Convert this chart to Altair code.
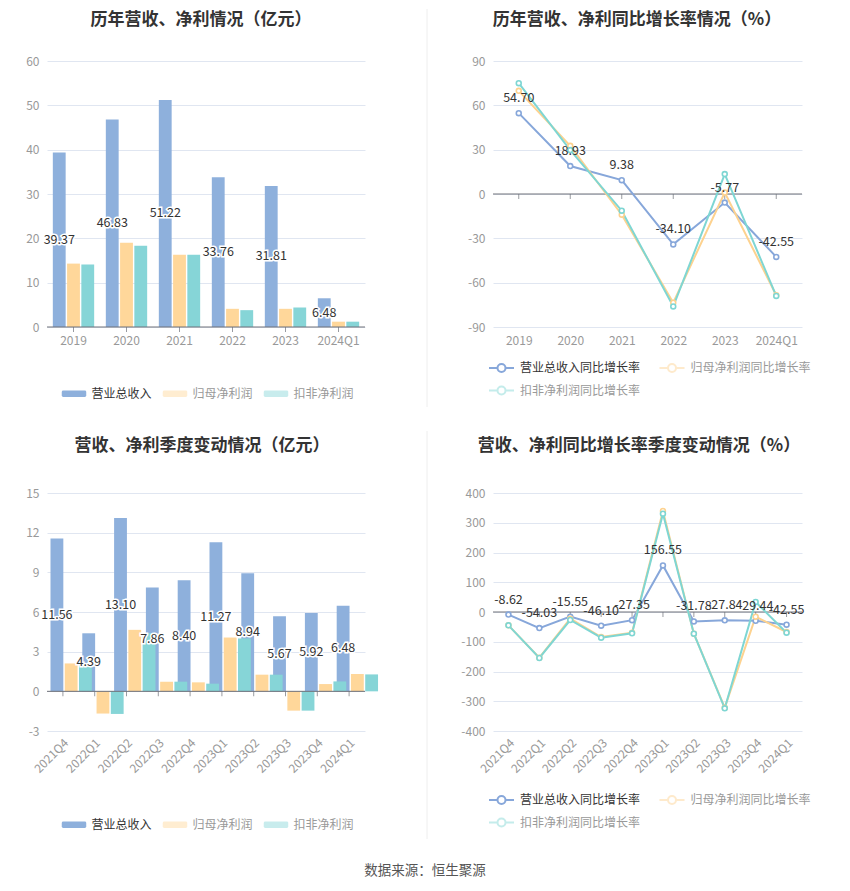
import altair as alt
import pandas as pd

FONT = "Noto Sans CJK SC"

# ---------------- data ----------------
years = ["2019", "2020", "2021", "2022", "2023", "2024Q1"]
rev = [39.37, 46.83, 51.22, 33.76, 31.81, 6.48]
net_profit = [14.3, 19.0, 16.3, 4.1, 4.1, 1.2]
ded_profit = [14.1, 18.3, 16.3, 3.8, 4.4, 1.2]

rev_g = [54.70, 18.93, 9.38, -34.10, -5.77, -42.55]
net_g = [69.8, 32.6, -14.0, -73.6, 1.0, -68.5]
ded_g = [75.0, 29.7, -11.3, -76.1, 13.5, -69.0]

quarters = ["2021Q4", "2022Q1", "2022Q2", "2022Q3", "2022Q4",
            "2023Q1", "2023Q2", "2023Q3", "2023Q4", "2024Q1"]
q_rev = [11.56, 4.39, 13.10, 7.86, 8.40, 11.27, 8.94, 5.67, 5.92, 6.48]
q_net = [2.11, -1.68, 4.65, 0.73, 0.68, 4.07, 1.26, -1.46, 0.55, 1.31]
q_ded = [2.06, -1.71, 4.42, 0.73, 0.58, 4.00, 1.26, -1.46, 0.75, 1.28]

q_rev_g = [-8.62, -54.03, -15.55, -46.10, -27.35, 156.55, -31.78, -27.84, -29.44, -42.55]
q_net_g = [-44.8, -153.5, -22.4, -84.0, -69.5, 339.5, -72.8, -321.6, -15.7, -67.2]
q_ded_g = [-44.8, -154.6, -26.9, -86.3, -71.7, 330.5, -72.8, -323.8, 33.6, -69.5]

bar_series = ["营业总收入", "归母净利润", "扣非净利润"]
line_series = ["营业总收入同比增长率", "归母净利润同比增长率", "扣非净利润同比增长率"]
bar_colors = ["#8eb0dc", "#ffd79a", "#86d5d7"]
line_colors = ["#87a7da", "#fdd28f", "#7ed6d3"]

titles = ["历年营收、净利情况（亿元）", "历年营收、净利同比增长率情况（%）",
          "营收、净利季度变动情况（亿元）", "营收、净利同比增长率季度变动情况（%）"]
source_text = "数据来源：恒生聚源"

RECT_PATH = ("M-0.88,-0.27L0.88,-0.27Q1,-0.27,1,-0.15L1,0.15Q1,0.27,0.88,0.27"
             "L-0.88,0.27Q-1,0.27,-1,0.15L-1,-0.15Q-1,-0.27,-0.88,-0.27Z")
LINE_PATH = ("M-1.25,0L-0.4,0M0.4,0L1.25,0"
             "M-0.4,0A0.4,0.4,0,1,1,0.4,0A0.4,0.4,0,1,1,-0.4,0")

AXIS_COLOR = "#6e7079"
GRID_COLOR = "#e0e6f1"
LABEL_COLOR = "#999999"


def long_df(cats, arrays, names):
    rows = []
    for name, arr in zip(names, arrays):
        for c, v in zip(cats, arr):
            rows.append({"cat": c, "series": name, "value": v, "lbl": f"{v:.2f}"})
    return pd.DataFrame(rows)


def y_axis(vals):
    return alt.Axis(values=vals, tickCount=len(vals), domain=False, ticks=False, grid=True,
                    gridColor=GRID_COLOR, gridWidth=1, labelColor=LABEL_COLOR,
                    labelFontSize=12, labelPadding=8, title=None, labelFont=FONT,
                    labelOverlap=False, labelExpr="datum.value + ''")


def x_axis(rotated):
    if rotated:
        return alt.Axis(domain=False, ticks=False, grid=False, labelAngle=-45,
                        labelColor=LABEL_COLOR, labelFontSize=12, labelPadding=6,
                        title=None, labelFont=FONT, labelOverlap=False)
    return alt.Axis(domain=False, ticks=False, grid=False, labelAngle=0,
                    labelColor=LABEL_COLOR, labelFontSize=12, labelPadding=8,
                    title=None, labelFont=FONT, labelOverlap=False)


def title_text(text, cx, cy):
    return alt.Chart(pd.DataFrame({"t": [text]})).mark_text(
        font=FONT, fontSize=17, fontWeight="bold", color="#333333",
        baseline="middle", align="center").encode(
        text="t:N", x=alt.value(cx), y=alt.value(cy))


def bar_panel(cats, arrays, width, height, ydom, yvals, legend_y, rotated, extra):
    df = long_df(cats, arrays, bar_series)
    xscale = alt.Scale(domain=cats, paddingInner=0.22, paddingOuter=0.11)
    yscale = alt.Scale(domain=ydom, nice=False)
    legend = alt.Legend(
        orient="none", legendX=14.5, legendY=legend_y, direction="horizontal",
        columns=3, title=None, symbolType=RECT_PATH, symbolSize=600,
        symbolStrokeWidth=0, labelOffset=5, columnPadding=10,
        labelFontSize=12, labelFont=FONT,
        labelColor=alt.ExprRef(f"datum.value === '{bar_series[0]}' ? '#333333' : '#999999'"),
        symbolOpacity=alt.ExprRef(f"datum.value === '{bar_series[0]}' ? 1 : 0.45"),
    )
    bars = alt.Chart(df).mark_bar().encode(
        x=alt.X("cat:N", scale=xscale, sort=cats, axis=x_axis(rotated)),
        xOffset=alt.XOffset("series:N", scale=alt.Scale(domain=bar_series, paddingInner=0.1)),
        y=alt.Y("value:Q", scale=yscale, axis=y_axis(yvals)),
        y2=alt.datum(0),
        color=alt.Color("series:N", scale=alt.Scale(domain=bar_series, range=bar_colors),
                        legend=legend),
    )
    zero = alt.Chart(pd.DataFrame({"z": [0]})).mark_rule(
        color=AXIS_COLOR, strokeWidth=1).encode(
        y=alt.Y("z:Q"), x=alt.value(0), x2=alt.value(width))
    ticks = alt.Chart(pd.DataFrame({"cat": cats, "z": [0] * len(cats)})).mark_tick(
        orient="vertical", size=5, thickness=1, yOffset=2.5, color=AXIS_COLOR).encode(
        x=alt.X("cat:N"), y=alt.Y("z:Q"))
    rdf = df[df["series"] == bar_series[0]].copy()
    rdf["mid"] = rdf["value"] / 2
    halo = alt.Chart(rdf).mark_text(
        font=FONT, fontSize=12.5, stroke="white", strokeWidth=3, fill="white",
        baseline="middle").encode(
        x=alt.X("cat:N"), xOffset=alt.XOffset("series:N"), y=alt.Y("mid:Q"),
        text="lbl:N")
    labels = alt.Chart(rdf).mark_text(
        font=FONT, fontSize=12.5, color="#333333", baseline="middle").encode(
        x=alt.X("cat:N"), xOffset=alt.XOffset("series:N"), y=alt.Y("mid:Q"),
        text="lbl:N")
    layers = [bars, zero, ticks, halo, labels] + extra
    return alt.layer(*layers).properties(width=width, height=height)


def line_panel(cats, arrays, width, height, ydom, yvals, legend_y, rotated, extra):
    df = long_df(cats, arrays, line_series)
    xscale = alt.Scale(type="point", domain=cats, padding=0.5)
    yscale = alt.Scale(domain=ydom, nice=False)
    legend = alt.Legend(
        orient="none", legendX=-2.5, legendY=legend_y, direction="horizontal",
        columns=2, title=None, symbolType=LINE_PATH, symbolSize=400,
        symbolStrokeWidth=2, symbolFillColor="white", labelOffset=7.5,
        columnPadding=14.5, rowPadding=3.5, labelFontSize=12, labelFont=FONT,
        labelColor=alt.ExprRef(f"datum.value === '{line_series[0]}' ? '#333333' : '#999999'"),
        symbolOpacity=alt.ExprRef(f"datum.value === '{line_series[0]}' ? 1 : 0.45"),
    )
    zero = alt.Chart(pd.DataFrame({"z": [0]})).mark_rule(
        color=AXIS_COLOR, strokeWidth=1).encode(
        y=alt.Y("z:Q", scale=yscale, axis=y_axis(yvals)), x=alt.value(0), x2=alt.value(width))
    ticks = alt.Chart(pd.DataFrame({"cat": cats, "z": [0] * len(cats)})).mark_tick(
        orient="vertical", size=5, thickness=1, yOffset=2.5, color=AXIS_COLOR).encode(
        x=alt.X("cat:N", scale=xscale, sort=cats, axis=x_axis(rotated)), y=alt.Y("z:Q"))
    lines = alt.Chart(df).mark_line(strokeWidth=2).encode(
        x=alt.X("cat:N", sort=cats),
        y=alt.Y("value:Q"),
        color=alt.Color("series:N", scale=alt.Scale(domain=line_series, range=line_colors),
                        legend=legend),
    )
    points = alt.Chart(df).mark_point(
        shape="circle", fill="white", fillOpacity=1, opacity=1, size=24,
        strokeWidth=1.6).encode(
        x=alt.X("cat:N", sort=cats),
        y=alt.Y("value:Q"),
        stroke=alt.Stroke("series:N", scale=alt.Scale(domain=line_series, range=line_colors),
                          legend=None),
    )
    rdf = df[df["series"] == line_series[0]]
    labels = alt.Chart(rdf).mark_text(
        font=FONT, fontSize=12.5, color="#333333", baseline="middle", dy=-15).encode(
        x=alt.X("cat:N", sort=cats), y=alt.Y("value:Q"), text="lbl:N")
    layers = [zero, ticks, lines, points, labels] + extra
    return alt.layer(*layers).properties(width=width, height=height)


def const_rule(x, y, y2, color, opacity=1):
    return alt.Chart(pd.DataFrame({"a": [0]})).mark_rule(
        color=color, strokeWidth=1, strokeOpacity=opacity).encode(
        x=alt.value(x), y=alt.value(y), y2=alt.value(y2))


anchor = const_rule(-39, -52, 0, "#ffffff", 0)
divider_top = const_rule(-66, -52, 346, "#eeeeee")
divider_bottom = const_rule(-66, -62, 346, "#eeeeee")
source = alt.Chart(pd.DataFrame({"t": [source_text]})).mark_text(
    font=FONT, fontSize=13.5, color="#555555", baseline="middle", align="center").encode(
    text="t:N", x=alt.value(378), y=alt.value(378))

tl = bar_panel(years, [rev, net_profit, ded_profit], 318, 266, [0, 60],
               list(range(0, 61, 10)), 320, False,
               [anchor, title_text(titles[0], 154, -41.5)])
tr = line_panel(years, [rev_g, net_g, ded_g], 309, 266, [-90, 90],
                list(range(-90, 91, 30)), 296, False,
                [divider_top, title_text(titles[1], 144, -41.5)])
bl = bar_panel(quarters, [q_rev, q_net, q_ded], 318, 238, [-3, 15],
               list(range(-3, 16, 3)), 319, True,
               [source, title_text(titles[2], 155, -47)])
br = line_panel(quarters, [q_rev_g, q_net_g, q_ded_g], 309, 238, [-400, 400],
                list(range(-400, 401, 100)), 296, True,
                [divider_bottom, title_text(titles[3], 146, -47)])

chart = alt.concat(tl, tr, bl, br, columns=2, spacing={"row": 166, "column": 128}).properties(
    padding=0, bounds="flush", align="each", background="white"
).resolve_scale(color="independent", stroke="independent").configure_view(stroke=None)

chart.save("out.html", embed_options={"renderer": "svg", "actions": False})
